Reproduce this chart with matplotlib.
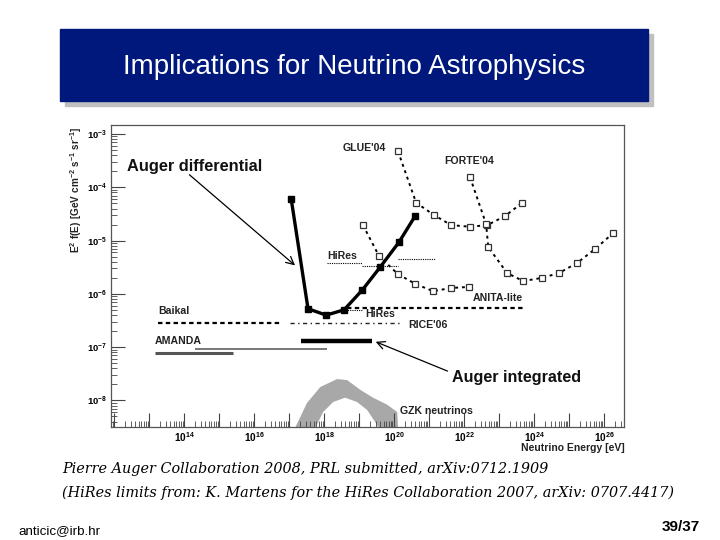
import numpy as np
import matplotlib
matplotlib.use("Agg")
import matplotlib.pyplot as plt
from matplotlib.patches import Rectangle
from matplotlib import ticker

plt.rcParams['font.family'] = ['Liberation Sans', 'DejaVu Sans']
plt.rcParams['mathtext.fontset'] = 'custom'
plt.rcParams['mathtext.rm'] = 'Liberation Sans'
plt.rcParams['mathtext.bf'] = 'Liberation Sans:bold'
plt.rcParams['axes.unicode_minus'] = False

# all values as log10(E/eV) and log10(E^2 f(E))
auger_diff_e = [17.06, 17.54, 18.06, 18.57, 19.09, 19.60, 20.14, 20.60]
auger_diff_f = [-4.22, -6.28, -6.40, -6.30, -5.93, -5.50, -5.03, -4.54]

glue_e = [20.11, 20.63, 21.14, 21.63, 22.17, 22.66, 23.17, 23.66]
glue_f = [-3.32, -4.29, -4.52, -4.71, -4.74, -4.71, -4.54, -4.29]

forte_e = [22.17, 22.63, 22.69, 23.23, 23.69, 24.23, 24.71, 25.23, 25.74, 26.26]
forte_f = [-3.81, -4.69, -5.12, -5.61, -5.76, -5.70, -5.61, -5.42, -5.16, -4.86]

anita_e = [19.11, 19.57, 20.11, 20.60, 21.11, 21.63, 22.14]
anita_f = [-4.71, -5.29, -5.63, -5.81, -5.95, -5.89, -5.87]

anita_int_e = [18.66, 23.69]
anita_int_f = -6.26

hires_up = [(18.09, 19.09, -5.42), (19.09, 20.11, -5.48), (20.11, 21.17, -5.35)]
hires_low = [(18.54, 19.11, -6.30)]

rice_e = [17.03, 20.17]
rice_f = -6.55
baikal_e = [13.26, 16.74]
baikal_f = -6.55

amanda1_e = [13.17, 15.40]
amanda1_f = -7.11
amanda2_e = [14.31, 18.09]
amanda2_f = -7.03

auger_int_e = [17.34, 19.37]
auger_int_f = -6.88

gzk_up_e = [17.11, 17.51, 17.89, 18.37, 18.66, 19.03, 19.40, 19.80, 20.09, 20.12]
gzk_up_f = [-8.60, -8.05, -7.75, -7.60, -7.62, -7.80, -7.95, -8.08, -8.22, -8.60]
gzk_lo_e = [17.69, 17.97, 18.26, 18.60, 18.94, 19.23, 19.51, 19.60]
gzk_lo_f = [-8.60, -8.22, -8.03, -7.95, -8.03, -8.18, -8.46, -8.60]

fig = plt.figure(figsize=(7.2, 5.4), dpi=100)
W, H = 720, 540

# title box with shadow
fig.patches.append(Rectangle((65 / W, 1 - 106 / H), 588 / W, 72 / H,
                             transform=fig.transFigure, color='#c0c0c0', zorder=0))
fig.patches.append(Rectangle((60 / W, 1 - 101 / H), 588 / W, 72 / H,
                             transform=fig.transFigure, color='#00187c', zorder=1))
fig.text(354 / W, 1 - 67 / H, "Implications for Neutrino Astrophysics",
         color='white', fontsize=20, ha='center', va='center')

ax = fig.add_axes([111 / W, 1 - 427 / H, 513 / W, 302 / H])
ax.set_xscale('log')
ax.set_yscale('log')
ax.set_xlim(10 ** 11.91, 10 ** 26.57)
ax.set_ylim(10 ** -8.5, 10 ** -2.83)

p = lambda a: 10 ** np.asarray(a, dtype=float)

# GZK band
band_e = list(gzk_up_e) + list(gzk_lo_e[::-1])
band_f = list(gzk_up_f) + list(gzk_lo_f[::-1])
ax.fill(p(band_e), p(band_f), color='#a8a8a8', lw=0, zorder=1)

# experiment limits
sq = dict(marker='s', ms=5, mfc='white', mec='#333333', mew=0.9)
ax.plot(p(glue_e), p(glue_f), color='black', ls=(0, (1.5, 2)), lw=1.4, **sq)
ax.plot(p(forte_e), p(forte_f), color='black', ls=(0, (1.5, 2)), lw=1.4, **sq)
ax.plot(p(anita_e), p(anita_f), color='black', ls=(0, (1.5, 2)), lw=1.4, **sq)

ax.plot(p(anita_int_e), p([anita_int_f] * 2), color='black', ls=(0, (2, 1.5)), lw=1.6)
ax.plot(p(baikal_e), p([baikal_f] * 2), color='black', ls=(0, (2, 1.5)), lw=1.6)
ax.plot(p(rice_e), p([rice_f] * 2), color='#222222', ls=(0, (3, 2.5, 1, 2.5)), lw=1.0)
for e0, e1, f in hires_up + hires_low:
    ax.plot(p([e0, e1]), p([f, f]), color='black', ls=(0, (1, 1)), lw=0.8)

ax.plot(p(amanda1_e), p([amanda1_f] * 2), color='#555555', lw=2.2, solid_capstyle='butt')
ax.plot(p(amanda2_e), p([amanda2_f] * 2), color='#777777', lw=1.4, solid_capstyle='butt')

ax.plot(p(auger_int_e), p([auger_int_f] * 2), color='black', lw=3.2, solid_capstyle='butt')
ax.plot(p(auger_diff_e), p(auger_diff_f), color='black', lw=2.4, marker='s', ms=4.5)

# labels
lab = dict(fontsize=7.6, weight='bold', color='#222222', va='center', ha='left')
ax.text(p(18.54), p(-3.26), "GLUE'04", **lab)
ax.text(p(21.43), p(-3.51), "FORTE'04", **lab)
ax.text(p(18.09), p(-5.29), "HiRes", **lab)
ax.text(p(19.17), p(-6.38), "HiRes", **lab)
ax.text(p(22.26), p(-6.08), "ANITA-lite", **lab)
ax.text(p(20.40), p(-6.58), "RICE'06", **lab)
ax.text(p(13.26), p(-6.32), "Baikal", **lab)
ax.text(p(13.17), p(-6.88), "AMANDA", **lab)
ax.text(p(20.17), p(-8.20), "GZK neutrinos", **lab)

ax.text(p(12.37), p(-3.60), "Auger differential", fontsize=11.8, weight='bold',
        va='center', ha='left', color='#111111')
ax.text(p(21.66), p(-7.58), "Auger integrated", fontsize=11.6, weight='bold',
        va='center', ha='left', color='#111111')
ax.annotate("", xy=(p(17.23), p(-5.50)), xytext=(p(14.09), p(-3.73)),
            arrowprops=dict(arrowstyle='->', lw=0.9, color='black',
                            mutation_scale=14))
ax.annotate("", xy=(p(19.40), p(-6.88)), xytext=(p(21.60), p(-7.47)),
            arrowprops=dict(arrowstyle='->', lw=0.9, color='black',
                            mutation_scale=14))

# axes styling
for s in ax.spines.values():
    s.set_color('#555555')
    s.set_linewidth(0.9)
ax.xaxis.set_major_locator(ticker.LogLocator(base=10, numticks=30))
ax.xaxis.set_minor_locator(ticker.LogLocator(base=10, subs=np.arange(2, 10), numticks=30))
ax.yaxis.set_major_locator(ticker.LogLocator(base=10, numticks=30))
ax.yaxis.set_minor_locator(ticker.LogLocator(base=10, subs=np.arange(2, 10), numticks=30))


def xfmt(v, pos):
    n = int(round(np.log10(v)))
    return r'$\mathbf{10^{%d}}$' % n if (n % 2 == 0 and n >= 14) else ''


def yfmt(v, pos):
    n = int(round(np.log10(v)))
    return r'$\mathbf{10^{%d}}$' % n


ax.xaxis.set_major_formatter(ticker.FuncFormatter(xfmt))
ax.yaxis.set_major_formatter(ticker.FuncFormatter(yfmt))
ax.tick_params(which='both', direction='in', color='#444444',
               top=False, right=False)
ax.tick_params(axis='x', labelsize=7.2, pad=2)
ax.tick_params(axis='y', labelsize=6.8, pad=3)
ax.tick_params(which='major', length=10, width=0.8)
ax.tick_params(which='minor', length=4, width=0.6)

fig.text(625 / W, 1 - 448 / H, "Neutrino Energy [eV]", fontsize=7.5,
         weight='bold', ha='right', va='center', color='#222222')
fig.text(76 / W, 1 - 126 / H,
         r'$\mathbf{E^{2}\ f(E)\ [GeV\ cm^{-2}\ s^{-1}\ sr^{-1}]}$',
         fontsize=7.2, rotation=90, ha='center', va='top', color='#222222')

# captions
cap = dict(family='DejaVu Serif', style='italic', fontsize=10.35, ha='left', va='center')
fig.text(62 / W, 1 - 469 / H,
         "Pierre Auger Collaboration 2008, PRL submitted, arXiv:0712.1909", **cap)
fig.text(62 / W, 1 - 493 / H,
         "(HiRes limits from: K. Martens for the HiRes Collaboration 2007, arXiv: 0707.4417)",
         **cap)
fig.text(18 / W, 1 - 531 / H, "anticic@irb.hr", fontsize=9.6, ha='left', va='center')
fig.text(700 / W, 1 - 527 / H, "39/37", fontsize=11, weight='bold', ha='right', va='center')

fig.savefig("out.png", dpi=100)
